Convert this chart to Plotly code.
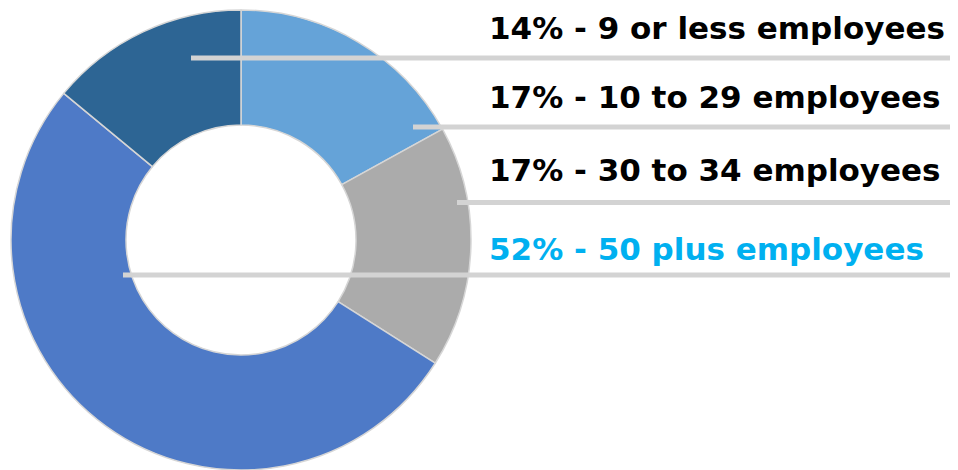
import plotly.graph_objects as go

W, H = 958, 470
OFF = 8  # page body margin in the browser

# Data (clockwise from 12 o'clock)
categories = ["10 to 29 employees", "30 to 34 employees", "50 plus employees", "9 or less employees"]
values = [17, 17, 52, 14]
slice_colors = ["#65A3D8", "#ABABAB", "#4E7AC7", "#2D6594"]

# Label list (top to bottom)
label_texts = ["14% - 9 or less employees", "17% - 10 to 29 employees",
               "17% - 30 to 34 employees", "52% - 50 plus employees"]
label_colors = ["#000000", "#000000", "#000000", "#00B0F0"]

# Leader line layout (screen pixels): start x, y
leader_start_x = [191, 413, 457, 123]
leader_y = [58, 127, 202.5, 275]
text_baseline = [38.5, 107.5, 181, 260]


def px(x):
    return (x - OFF) / W


def py(y):
    return (H - (y - OFF)) / H


fig = go.Figure()
cx, cy, r = 241, 240, 230
fig.add_trace(go.Pie(
    labels=categories, values=values, hole=0.5, sort=False,
    direction="clockwise", rotation=0,
    marker=dict(colors=slice_colors, line=dict(color="#D6D6D6", width=1.5)),
    textinfo="none", hoverinfo="label+percent", showlegend=False,
    domain=dict(x=[px(cx - r), px(cx + r)], y=[py(cy + r), py(cy - r)]),
))

fs = 31
for t, c, b in zip(label_texts, label_colors, text_baseline):
    fig.add_annotation(x=px(487), y=py(b), xref="paper", yref="paper",
                       xanchor="left", yanchor="bottom", yshift=-0.30 * fs,
                       text=t, showarrow=False,
                       font=dict(family="DejaVu Sans", size=fs, color=c, weight="bold"))

for sx, ly in zip(leader_start_x, leader_y):
    fig.add_shape(type="line", xref="paper", yref="paper",
                  x0=px(sx), x1=px(952), y0=py(ly), y1=py(ly),
                  line=dict(color="#D3D3D3", width=5))

fig.update_layout(width=W, height=H, margin=dict(l=0, r=0, t=0, b=0),
                  paper_bgcolor="white", plot_bgcolor="white")
fig.write_html("out.html")
